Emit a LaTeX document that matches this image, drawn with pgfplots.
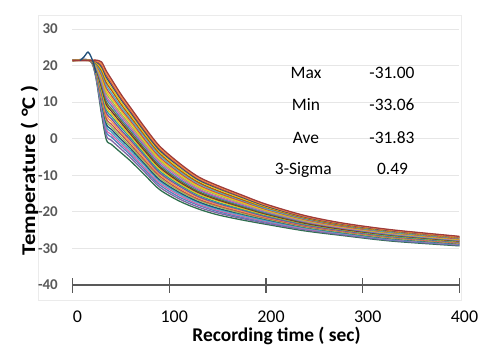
\documentclass[border=0pt]{standalone}
\usepackage{pgfplots}
\usepackage{pgfplotstable}
\pgfplotsset{compat=1.18}
\usepackage{fontspec}
\setmainfont{Carlito}

\definecolor{cc0}{HTML}{2F6F4F}
\definecolor{cc1}{HTML}{8064A2}
\definecolor{cc2}{HTML}{4F81BD}
\definecolor{cc3}{HTML}{D264A8}
\definecolor{cc4}{HTML}{4BACC6}
\definecolor{cc5}{HTML}{1F4E79}
\definecolor{cc6}{HTML}{9BBB59}
\definecolor{cc7}{HTML}{C0504D}
\definecolor{cc8}{HTML}{F79646}
\definecolor{cc9}{HTML}{7A4FA0}
\definecolor{cc10}{HTML}{2E9E8F}
\definecolor{cc11}{HTML}{E3C21B}
\definecolor{cc12}{HTML}{772C2A}
\definecolor{cc13}{HTML}{5F7530}
\definecolor{cc14}{HTML}{4F81BD}
\definecolor{cc15}{HTML}{D264A8}
\definecolor{cc16}{HTML}{9BBB59}
\definecolor{cc17}{HTML}{F2C314}
\definecolor{cc18}{HTML}{C0504D}
\definecolor{cc19}{HTML}{4BACC6}
\definecolor{cc20}{HTML}{B65708}
\definecolor{cc21}{HTML}{E3C21B}
\definecolor{cc22}{HTML}{1F4E79}
\definecolor{cc23}{HTML}{C0504D}
\definecolor{cc24}{HTML}{F79646}
\definecolor{cc25}{HTML}{9E3B3B}
\definecolor{gridgray}{HTML}{E6E6E6}
\definecolor{framegray}{HTML}{EBEBEB}
\definecolor{axgray}{HTML}{595959}

\pgfplotstableread{
x c0 c1 c2 c3 c4 c5 c6 c7 c8 c9 c10 c11 c12 c13 c14 c15 c16 c17 c18 c19 c20 c21 c22 c23 c24 c25
0 21.4 21.4 21.4 21.4 21.4 21.4 21.4 21.4 21.4 21.4 21.4 21.4 21.4 21.4 21.4 21.4 21.4 21.4 21.4 21.4 21.4 21.4 21.4 21.4 21.4 21.4
18 21.4 21.4 21.4 21.4 21.4 21.4 21.4 21.4 21.4 21.4 21.4 21.4 21.4 21.4 21.4 21.4 21.4 21.4 21.4 21.4 21.4 21.4 21.4 21.4 21.4 21.4
24 16.9 17.2 17.4 17.6 17.8 18.0 18.1 18.3 18.5 18.7 18.9 19.1 19.2 19.4 19.6 19.8 20.0 20.2 20.4 20.5 20.7 20.9 21.1 21.2 21.4 21.5
30 6.7 7.6 8.3 8.8 9.4 10.0 10.6 11.1 11.7 12.3 12.8 13.4 14.0 14.6 15.1 15.7 16.3 16.9 17.4 18.0 18.6 19.1 19.7 20.1 20.6 21.0
35 -0.3 0.8 1.8 2.5 3.3 4.0 4.8 5.5 6.3 7.0 7.8 8.5 9.3 10.0 10.8 11.5 12.3 13.0 13.8 14.6 15.3 16.1 16.8 17.4 17.9 18.5
40 -1.5 -0.4 0.5 1.2 1.9 2.6 3.3 4.0 4.8 5.5 6.2 6.9 7.6 8.3 9.1 9.8 10.5 11.2 11.9 12.6 13.4 14.1 14.8 15.3 15.9 16.4
50 -3.8 -2.8 -2.0 -1.4 -0.8 -0.1 0.5 1.2 1.8 2.4 3.1 3.7 4.4 5.0 5.6 6.3 6.9 7.6 8.2 8.8 9.5 10.1 10.8 11.2 11.7 12.2
60 -6.1 -5.2 -4.5 -3.9 -3.3 -2.7 -2.2 -1.6 -1.0 -0.4 0.2 0.8 1.3 1.9 2.5 3.1 3.7 4.3 4.9 5.4 6.0 6.6 7.2 7.6 8.1 8.5
75 -10.0 -9.2 -8.6 -8.1 -7.5 -7.0 -6.5 -6.0 -5.5 -4.9 -4.4 -3.9 -3.4 -2.9 -2.3 -1.8 -1.3 -0.8 -0.3 0.3 0.8 1.3 1.8 2.2 2.6 3.0
90 -13.9 -13.2 -12.6 -12.1 -11.6 -11.2 -10.7 -10.2 -9.7 -9.3 -8.8 -8.3 -7.8 -7.4 -6.9 -6.4 -5.9 -5.5 -5.0 -4.5 -4.0 -3.5 -3.1 -2.7 -2.4 -2.0
110 -17.0 -16.4 -15.9 -15.4 -15.0 -14.6 -14.2 -13.8 -13.4 -12.9 -12.5 -12.1 -11.7 -11.3 -10.9 -10.4 -10.0 -9.6 -9.2 -8.8 -8.4 -8.0 -7.5 -7.2 -6.9 -6.6
130 -19.2 -18.7 -18.2 -17.9 -17.5 -17.2 -16.8 -16.5 -16.1 -15.8 -15.4 -15.1 -14.7 -14.4 -14.0 -13.7 -13.3 -13.0 -12.6 -12.2 -11.9 -11.5 -11.2 -10.9 -10.7 -10.4
150 -20.8 -20.3 -19.9 -19.6 -19.3 -19.0 -18.6 -18.3 -18.0 -17.7 -17.4 -17.0 -16.7 -16.4 -16.1 -15.8 -15.4 -15.1 -14.8 -14.5 -14.2 -13.8 -13.5 -13.3 -13.0 -12.8
175 -22.2 -21.8 -21.5 -21.2 -20.9 -20.6 -20.4 -20.1 -19.8 -19.5 -19.3 -19.0 -18.7 -18.5 -18.2 -17.9 -17.6 -17.4 -17.1 -16.8 -16.6 -16.3 -16.0 -15.8 -15.6 -15.4
200 -23.4 -23.1 -22.8 -22.6 -22.4 -22.1 -21.9 -21.7 -21.5 -21.3 -21.0 -20.8 -20.6 -20.4 -20.2 -19.9 -19.7 -19.5 -19.3 -19.1 -18.8 -18.6 -18.4 -18.2 -18.1 -17.9
240 -25.2 -24.9 -24.7 -24.6 -24.4 -24.2 -24.1 -23.9 -23.7 -23.6 -23.4 -23.2 -23.1 -22.9 -22.7 -22.6 -22.4 -22.2 -22.1 -21.9 -21.7 -21.5 -21.4 -21.3 -21.1 -21.0
280 -26.5 -26.3 -26.1 -26.0 -25.9 -25.7 -25.6 -25.4 -25.3 -25.2 -25.0 -24.9 -24.8 -24.6 -24.5 -24.4 -24.2 -24.1 -24.0 -23.8 -23.7 -23.5 -23.4 -23.3 -23.2 -23.1
330 -28.0 -27.8 -27.7 -27.5 -27.4 -27.3 -27.2 -27.0 -26.9 -26.8 -26.7 -26.5 -26.4 -26.3 -26.2 -26.0 -25.9 -25.8 -25.7 -25.6 -25.4 -25.3 -25.2 -25.1 -25.0 -24.9
400 -29.3 -29.1 -29.0 -28.9 -28.8 -28.7 -28.6 -28.5 -28.4 -28.3 -28.2 -28.1 -28.0 -27.9 -27.8 -27.7 -27.6 -27.5 -27.4 -27.2 -27.1 -27.0 -26.9 -26.9 -26.8 -26.7
}\data

\begin{document}
\begin{tikzpicture}
\path[use as bounding box] (-72.5bp,-77bp) rectangle (427.5bp,285bp);
\draw[framegray, line width=0.8bp] (-34.5bp,-15bp) rectangle (388.5bp,270bp);
\begin{axis}[
  at={(0,0)}, anchor=south west,
  scale only axis, width=387bp, height=256bp,
  xmin=0, xmax=400, ymin=-40, ymax=30,
  xtick={0,100,...,400}, ytick={-40,-30,...,30},
  axis x line*=bottom, axis y line*=left,
  y axis line style={draw=none},
  x axis line style={axgray, line width=1.2bp},
  ymajorgrids, grid style={gridgray, line width=0.8bp},
  tick align=center,
  major tick length=15bp,
  x tick style={axgray, line width=1.2bp},
  y tick style={draw=none},
  /pgf/number format/assume math mode=true,
  xticklabel style={font=\fontsize{18}{18}\selectfont, inner sep=0pt, anchor=north, yshift=-18bp, xshift=5bp},
  yticklabel style={font=\fontsize{15}{15}\selectfont\bfseries, text=axgray, inner sep=0pt, anchor=east, xshift=-7bp},
]
\pgfplotsinvokeforeach{0,...,25}{
  \addplot[smooth, line width=1.3bp, color=cc#1] table[x=x, y=c#1]{\data};
}
\addplot[smooth, line width=1.3bp, color=cc5] coordinates {(8,21.4) (12,22.4) (16,23.7) (19,22.5) (22,20.5) (24,18.0)};
\end{axis}
\node[anchor=base, font=\fontsize{19.5}{20}\selectfont\bfseries] at (204bp,-56.5bp) {Recording time ( sec)};
\node[anchor=base, rotate=90, font=\fontsize{19.5}{20}\selectfont\bfseries] at (-37.5bp,115bp) {\scalebox{1.17}[1]{Temperature ( °C )}};
\begin{scope}[every node/.style={anchor=base, font=\fontsize{17.5}{18}\selectfont}]
\node at (233.5bp,206bp) {Max};
\node at (233.5bp,174.3bp) {Min};
\node at (233.5bp,141.7bp) {Ave};
\node at (230.8bp,110bp) {3-Sigma};
\node at (319.5bp,206bp) {-31.00};
\node at (319.5bp,174.3bp) {-33.06};
\node at (319.5bp,141.7bp) {-31.83};
\node at (320bp,110bp) {0.49};
\end{scope}
\end{tikzpicture}
\end{document}
